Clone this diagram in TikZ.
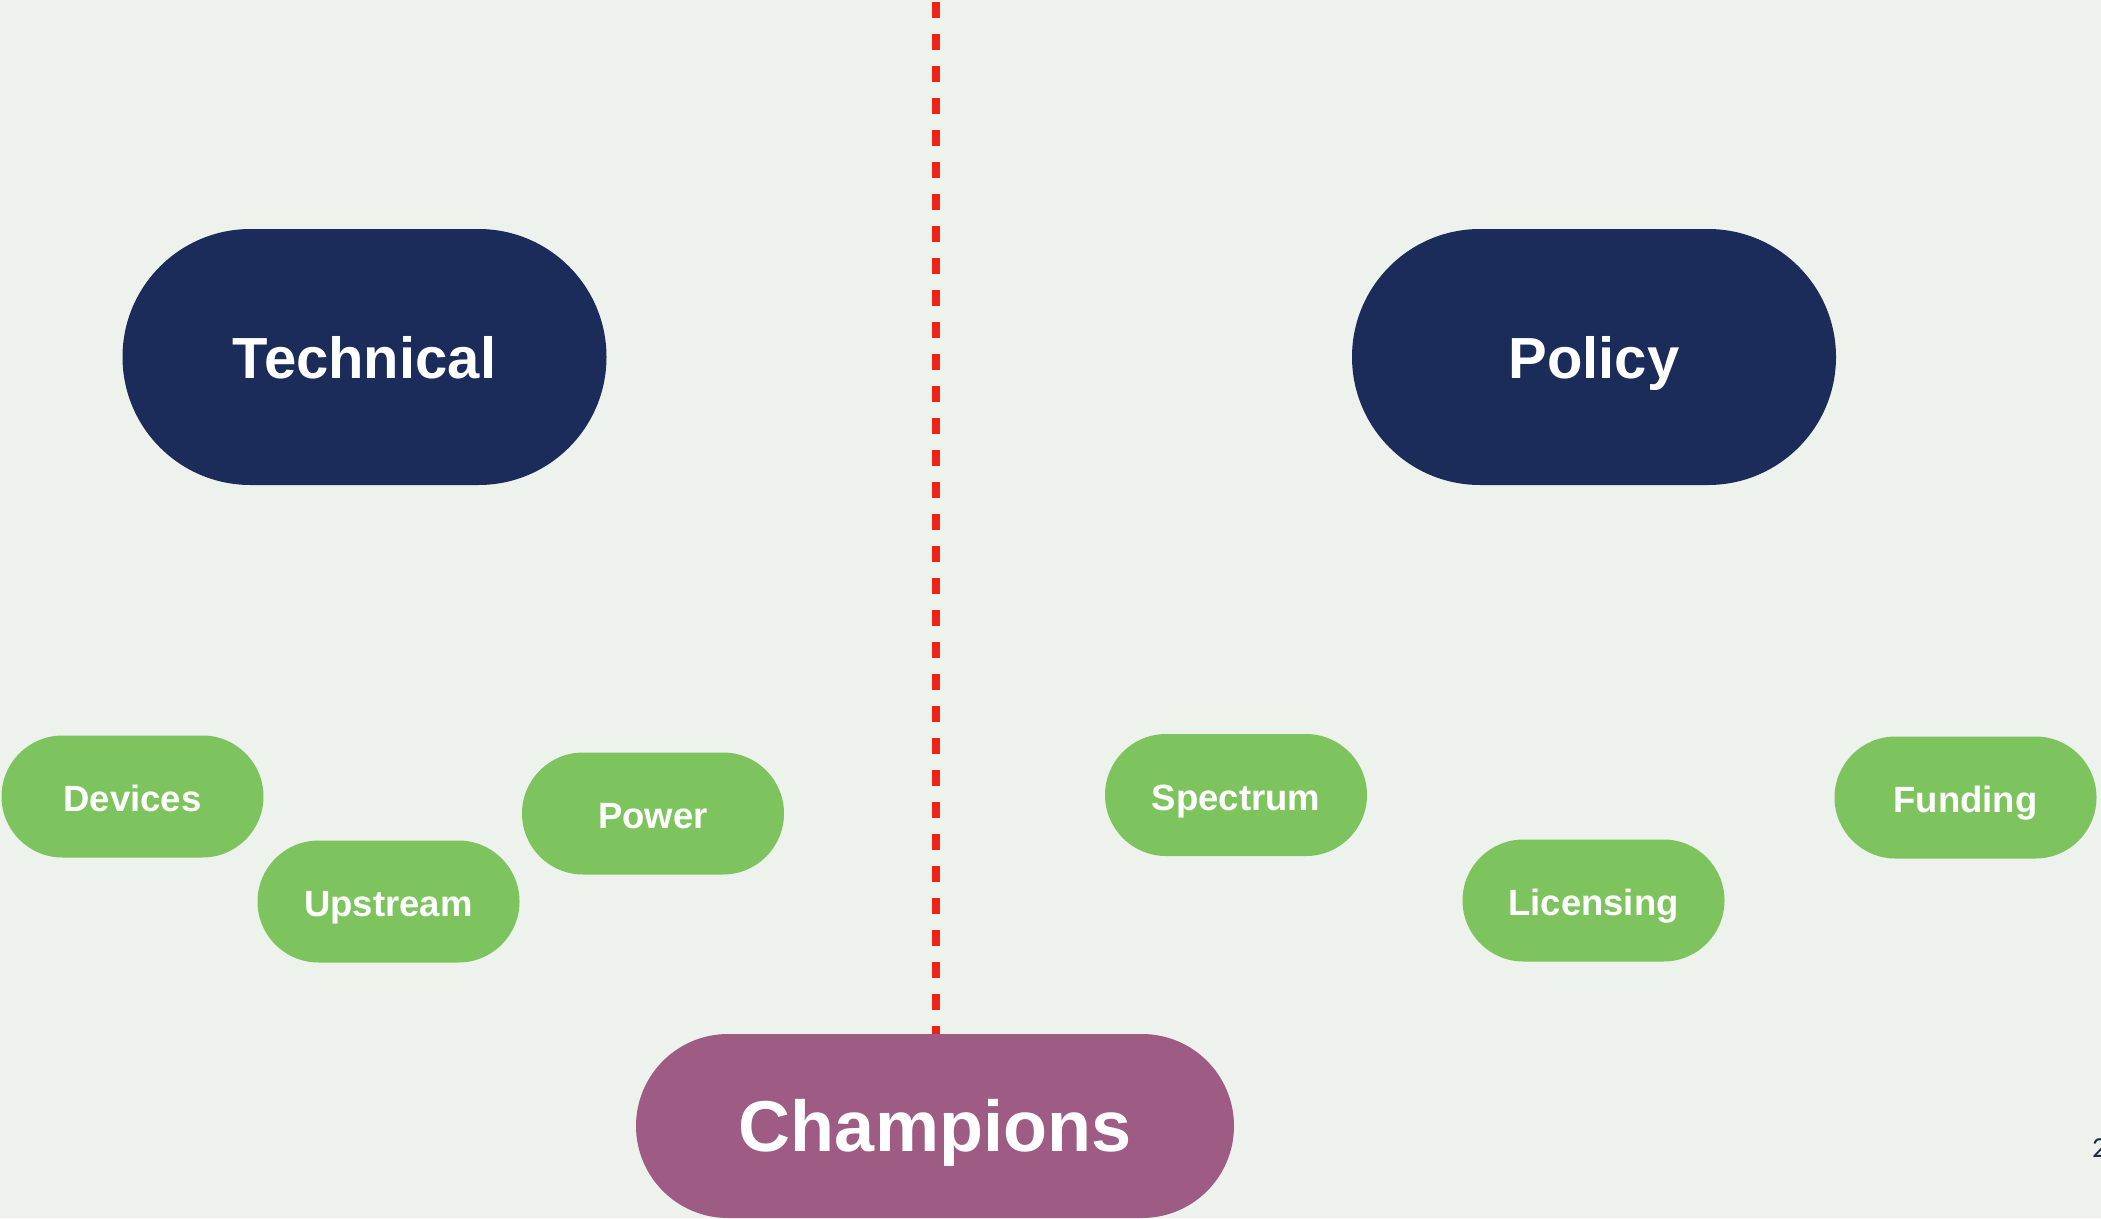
\documentclass[tikz,border=0pt]{standalone}
\usepackage{fontspec}
\setmainfont{Liberation Sans}
\newfontfamily\pagefont{Carlito}
\definecolor{bgc}{HTML}{EDF2EC}
\definecolor{navy}{HTML}{1B2C5A}
\definecolor{leaf}{HTML}{7EC45E}
\definecolor{plum}{HTML}{9E5B84}
\definecolor{redline}{HTML}{EE2314}
\definecolor{pagenum}{HTML}{1B2B48}
\tikzset{
  pillbase/.style={rectangle, inner sep=0pt, outer sep=0pt, text=white, text depth=0pt},
  navypill/.style={pillbase, fill=navy, minimum width=484pt, minimum height=256pt,
    rounded corners=128pt, font=\fontsize{58}{70}\selectfont\bfseries, text height=42.5pt},
  greenpill/.style={pillbase, fill=leaf, minimum width=262pt, minimum height=122pt,
    rounded corners=61pt, font=\fontsize{36.5}{44}\selectfont\bfseries, text height=30pt},
  plumpill/.style={pillbase, fill=plum, minimum width=598pt, minimum height=184pt,
    rounded corners=92pt, font=\fontsize{72}{86}\selectfont\bfseries, text height=51.5pt},
  divider/.style={draw=redline, line width=8pt, dash pattern=on 16pt off 16pt},
}
\begin{document}
\begin{tikzpicture}[x=1pt,y=-1pt]
\useasboundingbox (0,0) rectangle (2101,1218);
\fill[bgc] (0,0) rectangle (2101,1218);
% main pills
\node[navypill] (tech) at (364.5,357) {Technical};
\node[navypill] (policy) at (1594,357) {Policy};
% green pills
\node[greenpill] (devices) at (132.5,796.5) {Devices};
\node[greenpill] (upstream) at (388.5,901.5) {Upstream};
\node[greenpill] (power) at (653,813.5) {Power};
\node[greenpill] (spectrum) at (1236,795) {Spectrum};
\node[greenpill] (licensing) at (1593.5,900.5) {Licensing};
\node[greenpill] (funding) at (1965.5,797.5) {Funding};
% champions
\node[plumpill] (champions) at (935,1126) {Champions};
% dashed divider
\coordinate (divtop) at (936,2);
\draw[divider] (divtop) -- (divtop |- champions.north);
% page number
\node[anchor=base west, inner sep=0pt, text=pagenum, font=\pagefont\fontsize{29}{34}\selectfont] (page) at (2092,1157) {2};
\end{tikzpicture}
\end{document}
